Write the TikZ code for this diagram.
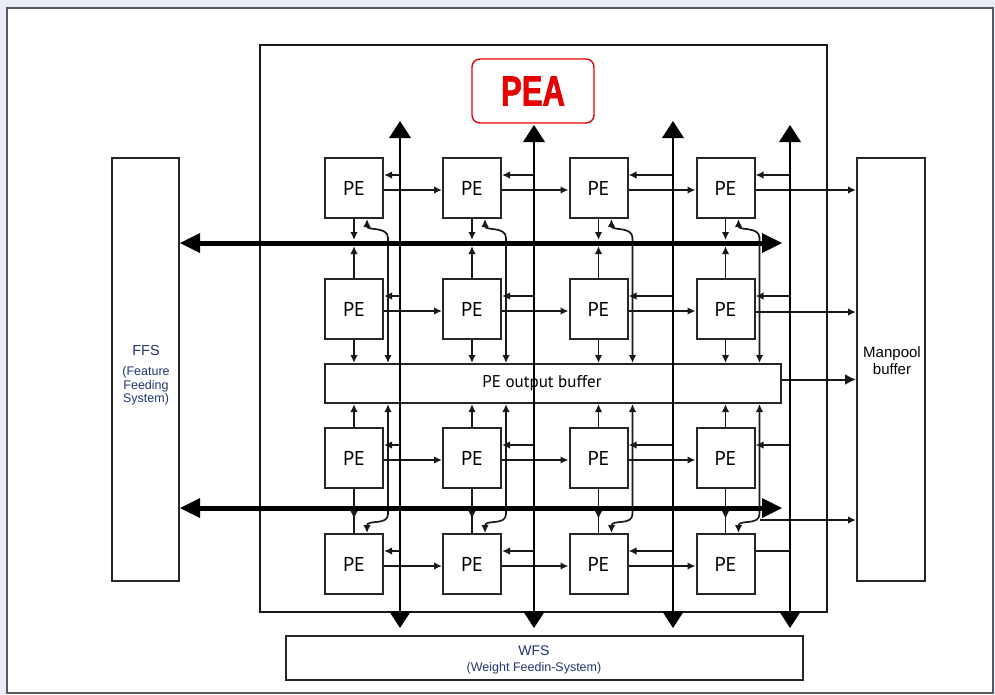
\documentclass[tikz,border=0pt]{standalone}
\usepackage{fontspec}
\setmainfont{Liberation Sans}
\newfontfamily\pefont{PT Sans}
\newfontfamily\peafont[FakeStretch=0.74,FakeBold=1.5]{Liberation Sans}
\usetikzlibrary{arrows.meta}
\definecolor{bgblue}{RGB}{233,237,248}
\definecolor{framegray}{RGB}{90,90,90}
\definecolor{navy}{RGB}{34,54,112}
\definecolor{peared}{RGB}{230,0,0}
\begin{document}
\begin{tikzpicture}[x=1pt,y=-1pt,
  pebox/.style={draw=black!85,line width=2pt,minimum width=58pt,minimum height=60pt,inner sep=0pt,font=\pefont\fontsize{20}{24}\selectfont},
  sidebox/.style={draw=black!85,line width=2pt,minimum width=67pt,minimum height=423pt,inner sep=0pt},
  arr/.style={draw=black!90,line width=1.7pt,-{Latex[length=8pt,width=7.5pt]}},
  biarr/.style={arr,{Latex[length=8pt,width=7.5pt]}-{Latex[length=8pt,width=7.5pt]}},
  wire/.style={draw=black!90,line width=1.7pt},
  vbus/.style={draw=black,line width=2.8pt,{Triangle[length=17pt,width=22pt,line width=0pt]}-{Triangle[length=17pt,width=22pt,line width=0pt]}},
  hbus/.style={draw=black,line width=5pt,{Triangle[length=20pt,width=20pt,line width=0pt]}-{Triangle[length=20pt,width=20pt,line width=0pt]}}]
  % frame
  \fill[bgblue] (0,0) rectangle (995,694);
  \draw[framegray,line width=2.5pt,fill=white] (7,8) rectangle (993,693);
  \useasboundingbox (0,0) rectangle (995,694);
  % blocks
  \node[draw=black!90,line width=2pt,minimum width=567pt,minimum height=567pt] (pea) at (543.5,328.5) {};
  \node[draw=peared,line width=1.4pt,rounded corners=8pt,minimum width=122pt,minimum height=64pt,inner sep=0pt,
        text=peared,font=\peafont\bfseries\fontsize{42}{42}\selectfont] (pealabel) at (533,91) {PEA};
  \node[sidebox] (ffs) at (145.5,369.5) {};
  \node[sidebox,minimum width=68pt] (man) at (891,369.5) {};
  \node[draw=black!85,line width=2pt,minimum width=517pt,minimum height=44pt,inner sep=0pt] (wfs) at (544.5,658) {};
  \node[draw=black!85,line width=2pt,minimum width=456pt,minimum height=39pt,inner sep=0pt,
        font=\pefont\fontsize{17}{20}\selectfont] (buf) at (553,383.5) {\hspace*{-22pt}PE output buffer};
  \node[text=navy,align=center,font=\fontsize{12.5}{13.5}\selectfont] (ffstext) at (146,375)
    {{\fontsize{14.5}{14}\selectfont FFS}\\[7pt](Feature\\Feeding\\System)};
  \node[align=center,font=\fontsize{15}{17}\selectfont] (mantext) at (892,361) {Manpool\\buffer};
  \node[text=navy,align=center,font=\fontsize{12.5}{16}\selectfont] (wfstext) at (534,660)
    {{\fontsize{14}{16}\selectfont WFS}\\(Weight Feedin-System)};
  % processing elements
  \foreach \r/\y in {1/188,2/309,3/458,4/564}
    \foreach \c/\x in {1/354,2/472,3/598.5,4/725.5}
      \node[pebox] (pe\r\c) at (\x,\y) {PE};
  % bus end points
  \foreach \c/\bx/\tip in {1/400/121,2/534/125,3/673/121,4/790/125} {
    \coordinate (vt\c) at (\bx,\tip);
    \coordinate (vb\c) at (\bx,628);
  }
  \coordinate (hl1) at (ffs.east |- 0,243);
  \coordinate (hr1) at (782,243);
  \coordinate (hl2) at (ffs.east |- 0,508);
  \coordinate (hr2) at (782,508);
  \foreach \c in {1,...,4}
    \coordinate (ln\c) at ([xshift=4pt]pe1\c.east);
  % vertical links
  \foreach \c in {1,...,4} {
    \draw[arr,shorten >=3pt] (pe1\c.south) -- (pe1\c.south |- hl1);
    \draw[arr,shorten >=3pt] (pe2\c.north) -- (pe2\c.north |- hl1);
    \draw[biarr] ([xshift=13pt]pe1\c.south) .. controls +(0,12) and +(0,-12) .. (ln\c |- 0,238) -- (ln\c |- buf.north);
    \draw[arr] (pe2\c.south) -- (pe2\c.south |- buf.north);
    \draw[arr] (pe3\c.north) -- (pe3\c.north |- buf.south);
    \draw[biarr] (ln\c |- buf.south) -- (ln\c |- 0,514) .. controls +(0,12) and +(0,-14) .. ([xshift=13pt]pe4\c.north);
    \draw[wire] (pe3\c.south) -- (pe4\c.north);
    \draw[arr] (pe3\c.south) -- (pe3\c.south |- 0,519);
  }
  % row links
  \foreach \r in {1,...,4} {
    \draw[arr] ([yshift=-2pt]pe\r1.east) -- ([yshift=-2pt]pe\r2.west);
    \draw[arr] ([yshift=-2pt]pe\r2.east) -- ([yshift=-2pt]pe\r3.west);
    \draw[arr] ([yshift=-2pt]pe\r3.east) -- ([yshift=-2pt]pe\r4.west);
  }
  \foreach \r in {1,2,3}
    \foreach \c in {1,...,4}
      \draw[arr] ([yshift=13pt]pe\r\c.east -| vt\c) -- ([yshift=13pt]pe\r\c.east);
  \foreach \c in {1,2,3}
    \draw[arr] ([yshift=13pt]pe4\c.east -| vt\c) -- ([yshift=13pt]pe4\c.east);
  \draw[wire] ([yshift=13pt]pe44.east) -- ([yshift=13pt]pe44.east -| vt4);
  % outputs to the pool buffer
  \draw[arr] ([yshift=-2pt]pe14.east) -- ([yshift=-2pt]pe14.east -| man.west);
  \draw[arr] ([yshift=-3pt]pe24.east) -- ([yshift=-3pt]pe24.east -| man.west);
  \draw[arr,line width=2pt,-{Latex[length=11pt,width=11pt]}] ([yshift=4pt]buf.east) -- ([yshift=4pt]buf.east -| man.west);
  \draw[arr] (ln4 |- 0,520) -- (man.west |- 0,520);
  % buses
  \foreach \c in {1,...,4}
    \draw[vbus] (vt\c) -- (vb\c);
  \draw[hbus] (hl1) -- (hr1);
  \draw[hbus] (hl2) -- (hr2);
\end{tikzpicture}
\end{document}
